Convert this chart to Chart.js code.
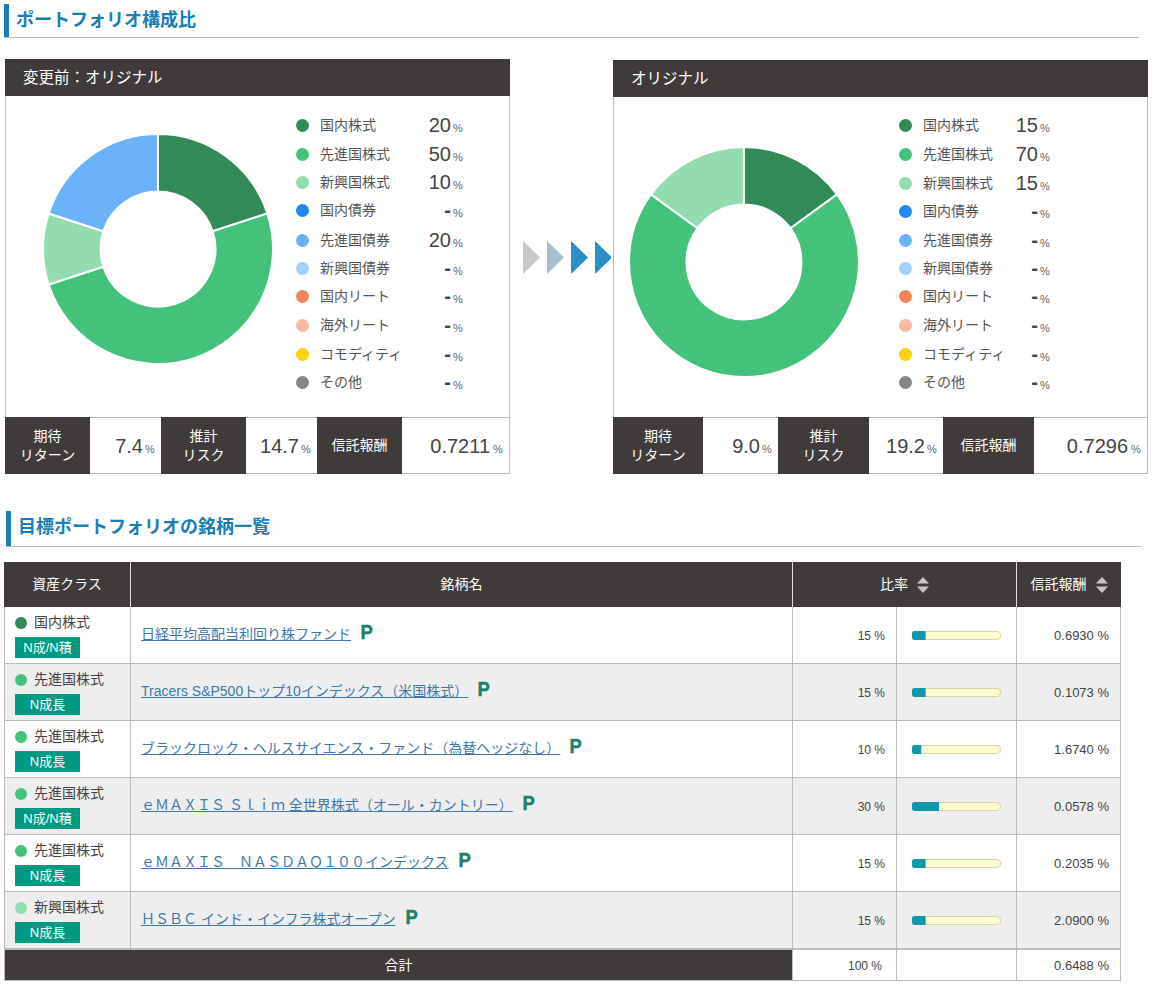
<!DOCTYPE html>
<html lang="ja">
<head>
<meta charset="utf-8">
<title>ポートフォリオ構成比</title>
<script src="https://cdn.jsdelivr.net/npm/chart.js@4"></script>
<style>
html, body { margin: 0; padding: 0; background: #fff; }
body { width: 1157px; height: 985px; overflow: hidden; position: relative; color: #444;
  font-family: "Liberation Sans", "Noto Sans CJK JP", sans-serif; }
div, span, canvas, a { box-sizing: border-box; }
.abs { position: absolute; }
.head { position: absolute; font-size: 18px; font-weight: bold; color: #1a7db3; line-height: 24px; white-space: nowrap; }
.dark { position: absolute; background: #403b3b; color: #fff; font-size: 14px; display: flex;
  align-items: center; justify-content: center; text-align: center; line-height: 19px; }
.cell { position: absolute; border: 1px solid #bbb; }
.num { position: absolute; text-align: right; white-space: nowrap; }
.small { font-size: 11px; color: #666; }
a { color: #3f78aa; text-decoration: underline; font-size: 14px; }
.p { display: inline-block; font-size: 20px; line-height: 14px; font-weight: bold; color: #1d8068; margin-left: 9px;
  position: relative; top: 0; transform: scaleX(.92); -webkit-text-stroke: .5px #1d8068; }
.tri { position: absolute; width: 17px; height: 33px; clip-path: polygon(0 0, 100% 50%, 0 100%); }
</style>
</head>
<body>
<div id="page"></div>
<script>
// pie data
const assetClasses = ['国内株式', '先進国株式', '新興国株式', '国内債券', '先進国債券', '新興国債券', '国内リート', '海外リート', 'コモディティ', 'その他'];
const beforeValues = [20, 50, 10, 0, 20, 0, 0, 0, 0, 0];
const afterValues = [15, 70, 15, 0, 0, 0, 0, 0, 0, 0];
const assetColors = ['#328a58', '#44c27c', '#92dcb0', '#2288ee', '#6bb2fb', '#a3d0fa', '#f5835a', '#f9b9a0', '#fdd208', '#868686'];

// summary numbers
const beforeStats = ['7.4', '14.7', '0.7211'];
const afterStats = ['9.0', '19.2', '0.7296'];

// fund table
const fundClasses = [0, 1, 1, 1, 1, 2];
const fundBadges = ['N成/N積', 'N成長', 'N成長', 'N成/N積', 'N成長', 'N成長'];
const fundNames = [
  '日経平均高配当利回り株ファンド',
  'Tracers S&P500トップ10インデックス（米国株式）',
  'ブラックロック・ヘルスサイエンス・ファンド（為替ヘッジなし）',
  'ｅＭＡＸＩＳ Ｓｌｉｍ 全世界株式（オール・カントリー）',
  'ｅＭＡＸＩＳ　ＮＡＳＤＡＱ１００インデックス',
  'ＨＳＢＣ インド・インフラ株式オープン'
];
const fundRatios = [15, 15, 10, 30, 15, 15];
const fundFees = ['0.6930', '0.1073', '1.6740', '0.0578', '0.2035', '2.0900'];
const totalRatio = 100;
const totalFee = '0.6488';

let html = '';

function heading(text, x, y, w, h, textTop) {
  html += `<div class="abs" style="left:${x}px;top:${y}px;width:5px;height:${h}px;background:#1a7db3"></div>`;
  html += `<div class="abs" style="left:${x}px;top:${y + h}px;width:${w}px;height:1px;background:#bbb"></div>`;
  html += `<div class="head" style="left:${x + 12}px;top:${textTop}px">${text}</div>`;
}

function panel(x, y, w, title, values, stats, cols, chartId, cx, cy, rows, legendX, valueWidth, pctX) {
  const bottom = 474;
  html += `<div class="cell" style="left:${x}px;top:${y}px;width:${w}px;height:${bottom - y}px"></div>`;
  html += `<div class="dark" style="left:${x}px;top:${y}px;width:${w}px;height:36px;font-size:15.5px;justify-content:flex-start;padding-left:18px">${title}</div>`;
  html += `<div class="abs" style="left:${x}px;top:${y + 36}px;width:${w}px;height:1px;background:#403b3b"></div>`;
  html += `<canvas id="${chartId}" class="abs" style="left:${cx - 116}px;top:${cy - 116}px;width:232px;height:232px"></canvas>`;
  // legend
  assetClasses.forEach((name, i) => {
    const ly = rows[i];
    html += `<div class="abs" style="left:${legendX}px;top:${ly - 6}px;width:13px;height:13px;border-radius:50%;background:${assetColors[i]}"></div>`;
    html += `<div class="abs" style="left:${legendX + 24}px;top:${ly - 10}px;font-size:14px;line-height:20px;white-space:nowrap;color:#555">${name}</div>`;
    const v = values[i] ? values[i] : '<b>-</b>';
    html += `<div class="num" style="left:${legendX + 90}px;top:${ly - 12}px;width:${valueWidth}px;font-size:20px;line-height:24px">${v}</div>`;
    html += `<div class="abs small" style="left:${legendX + pctX}px;top:${ly - 4}px;line-height:14px">%</div>`;
  });
  // stats strip
  html += `<div class="abs" style="left:${x}px;top:417px;width:${w}px;height:1px;background:#bbb"></div>`;
  const labels = ['期待<br>リターン', '推計<br>リスク', '信託報酬'];
  labels.forEach((label, i) => {
    const a = cols[i * 2], b = cols[i * 2 + 1], c = cols[i * 2 + 2];
    const gap = i === 2 ? 20 : 18;
    const pct = i === 2 ? 17 : 16;
    html += `<div class="dark" style="left:${a}px;top:417px;width:${b - a}px;height:57px">${label}</div>`;
    html += `<div class="num" style="left:${b}px;top:433px;width:${c - b - gap}px;font-size:20px;line-height:26px">${stats[i]}</div>`;
    html += `<div class="abs small" style="left:${c - pct}px;top:442px;line-height:14px">%</div>`;
  });
}

heading('ポートフォリオ構成比', 4, 4, 1135, 33, 8);
panel(5, 59, 505, '変更前：オリジナル', beforeValues, beforeStats, [5, 90, 161, 246, 317, 402, 510], 'before', 158, 249,
  [125, 154, 182, 210, 240, 268, 296, 325, 354, 382], 296, 65, 157);
panel(613, 60, 535, 'オリジナル', afterValues, afterStats, [613, 703, 778, 869, 943, 1034, 1148], 'after', 744, 262,
  [125, 154, 183, 211, 240, 268, 296, 325, 354, 382], 899, 49, 141);

// arrows between the panels
['#c8c8c8', '#a5bfd0', '#2a8fc6'].forEach((color, i) => {
  html += `<div class="tri" style="left:${523 + i * 24}px;top:241px;background:${color}"></div>`;
});
// last arrow has its tip cut off
html += `<div class="tri" style="left:595px;top:241px;width:16px;background:#2a8fc6;clip-path:polygon(0 0,100% 47%,100% 53%,0 100%)"></div>`;

heading('目標ポートフォリオの銘柄一覧', 6, 511, 1135, 35, 515);

// table rows
fundNames.forEach((name, i) => {
  const y = 606 + i * 57;
  const bg = i % 2 ? '#eeeeee' : '#fff';
  [[4, 127], [130, 663], [792, 105], [896, 121], [1016, 105]].forEach(([x, w]) => {
    html += `<div class="cell" style="left:${x}px;top:${y}px;width:${w}px;height:58px;background:${bg}"></div>`;
  });
  html += `<div class="abs" style="left:15px;top:${y + 11}px;width:12px;height:12px;border-radius:50%;background:${assetColors[fundClasses[i]]}"></div>`;
  html += `<div class="abs" style="left:34px;top:${y + 6}px;font-size:14px;line-height:20px;white-space:nowrap;color:#444">${assetClasses[fundClasses[i]]}</div>`;
  html += `<div class="abs" style="left:15px;top:${y + 31}px;width:65px;height:21px;background:#009a82;color:#fff;font-size:13px;line-height:21px;text-align:center">${fundBadges[i]}</div>`;
  html += `<div class="abs" style="left:141px;top:${y + 16}px;white-space:nowrap;line-height:24px"><a>${name.replace(/&/g, '&amp;')}</a><span class="p">P</span></div>`;
  html += `<div class="num" style="left:793px;top:${y + 21}px;width:92px;font-size:12px;line-height:18px">${fundRatios[i]} %</div>`;
  html += `<div class="abs" style="left:912px;top:${y + 25}px;width:89px;height:9px;background:#fdfbd0;border:1px solid #d8d6a8;border-radius:4px"></div>`;
  html += `<canvas id="ratio${i}" class="abs" style="left:912px;top:${y + 25}px;width:89px;height:9px"></canvas>`;
  html += `<div class="num" style="left:1017px;top:${y + 21}px;width:92px;font-size:13px;line-height:18px">${fundFees[i]} %</div>`;
});

// table header
const sortIcon = '<svg width="12" height="16" style="margin-left:9px" viewBox="0 0 12 16"><path d="M6 0L12 6.5H0z M6 16L12 9.5H0z" fill="#c5c5c5"/></svg>';
html += `<div class="dark" style="left:4px;top:562px;width:1117px;height:45px"></div>`;
html += `<div class="dark" style="left:4px;top:562px;width:126px;height:45px">資産クラス</div>`;
html += `<div class="dark" style="left:131px;top:562px;width:661px;height:45px">銘柄名</div>`;
html += `<div class="dark" style="left:793px;top:562px;width:223px;height:45px">比率${sortIcon}</div>`;
html += `<div class="dark" style="left:1017px;top:562px;width:104px;height:45px">信託報酬${sortIcon}</div>`;
[130, 792, 1016].forEach(x => {
  html += `<div class="abs" style="left:${x}px;top:562px;width:1px;height:45px;background:#ddd"></div>`;
});

// total row
html += `<div class="dark" style="left:5px;top:950px;width:787px;height:30px;font-size:14px">合計</div>`;
[[792, 105], [896, 121], [1016, 105]].forEach(([x, w]) => {
  html += `<div class="cell" style="left:${x}px;top:949px;width:${w}px;height:32px;background:#fff"></div>`;
});
html += `<div class="abs" style="left:4px;top:948px;width:1117px;height:2px;background:#bbb"></div>`;
html += `<div class="abs" style="left:4px;top:948px;width:1px;height:33px;background:#bbb"></div>`;
html += `<div class="abs" style="left:4px;top:980px;width:789px;height:1px;background:#bbb"></div>`;
html += `<div class="num" style="left:793px;top:957px;width:89px;font-size:12px;line-height:18px">${totalRatio} %</div>`;
html += `<div class="num" style="left:1017px;top:957px;width:92px;font-size:13px;line-height:18px">${totalFee} %</div>`;

document.getElementById('page').innerHTML = html;

function drawDoughnut(id, values) {
  new Chart(document.getElementById(id).getContext('2d'), {
    type: 'doughnut',
    data: {
      labels: assetClasses,
      datasets: [{ data: values, backgroundColor: assetColors, borderColor: '#fff', borderWidth: 2 }]
    },
    options: {
      responsive: false,
      animation: false,
      cutout: '50%',
      plugins: { legend: { display: false }, tooltip: { enabled: false } }
    }
  });
}

function drawRatioBar(i) {
  new Chart(document.getElementById('ratio' + i).getContext('2d'), {
    type: 'bar',
    data: {
      labels: [fundNames[i]],
      datasets: [{
        data: [fundRatios[i]],
        backgroundColor: '#1298ab',
        borderSkipped: false,
        borderRadius: { topLeft: 4, bottomLeft: 4, topRight: 0, bottomRight: 0 },
        barPercentage: 1,
        categoryPercentage: 1
      }]
    },
    options: {
      indexAxis: 'y',
      responsive: false,
      animation: false,
      scales: {
        x: { display: false, min: 0, max: 100 },
        y: { display: false }
      },
      plugins: { legend: { display: false }, tooltip: { enabled: false } }
    }
  });
}

drawDoughnut('before', beforeValues);
drawDoughnut('after', afterValues);
fundNames.forEach((_, i) => drawRatioBar(i));
</script>
</body>
</html>
